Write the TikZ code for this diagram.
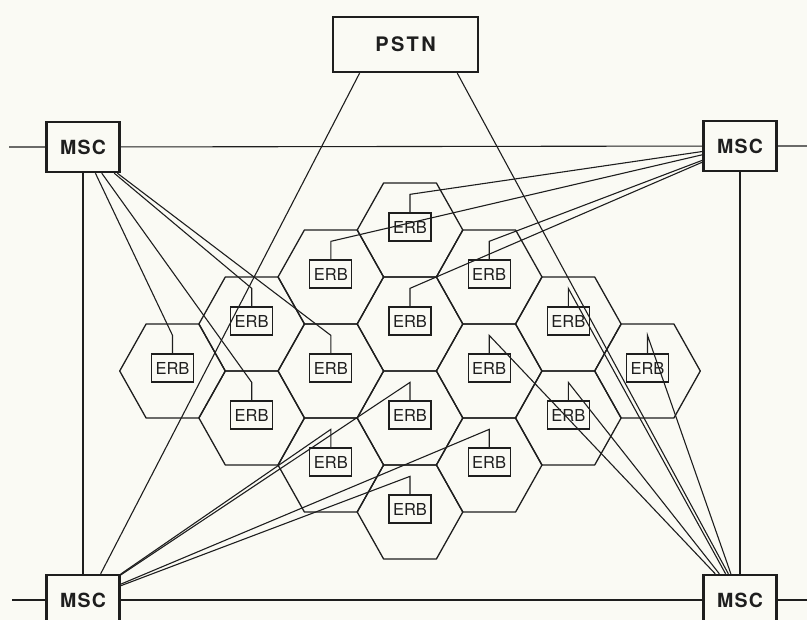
\documentclass[tikz,border=0pt]{standalone}
\usepackage{fontspec}
\usepackage{xcolor}
\setsansfont{TeX Gyre Heros}
\newfontfamily\boxfont[LetterSpace=6]{TeX Gyre Heros}
\newfontfamily\wideboxfont[LetterSpace=12]{TeX Gyre Heros}

\definecolor{paper}{RGB}{250,250,244}
\definecolor{ink}{RGB}{30,30,30}

\tikzset{
  cell/.style={draw=ink, line width=1.3pt, line join=round},
  erb/.style={draw=ink, line width=1.3pt, minimum width=42pt, minimum height=28pt,
    inner sep=0pt, text=ink, font=\sffamily\fontsize{16.5}{16.5}\selectfont},
  msc/.style={draw=ink, line width=2.4pt, minimum width=73pt, minimum height=50pt,
    inner sep=0pt, text=ink, font=\boxfont\bfseries\fontsize{19.5}{19.5}\selectfont},
  link/.style={draw=ink, line width=1.1pt},
}

\begin{document}
\begin{tikzpicture}[x=1pt,y=-1pt]
  \fill[paper] (0,0) rectangle (807,620);
  \useasboundingbox (0,0) rectangle (807,620);

  \foreach \n/\x/\y in {0/172.5/371, 1a/251.7/324, 1b/251.7/418,
      2a/330.8/277, 2b/330.8/371, 2c/330.8/465,
      3a/410/230, 3b/410/324, 3c/410/418, 3d/410/512,
      4a/489.2/277, 4b/489.2/371, 4c/489.2/465,
      5a/568.3/324, 5b/568.3/418, 6/647.5/371} {
    \draw[cell] (\x-52.8,\y) -- (\x-26.4,\y-47) -- (\x+26.4,\y-47) -- (\x+52.8,\y)
      -- (\x+26.4,\y+47) -- (\x-26.4,\y+47) -- cycle;
    \node[erb] (e\n) at (\x,\y-3) {ERB};
  }

  \node[msc] (tl) at (83,147) {MSC};
  \node[msc] (tr) at (740,146) {MSC};
  \node[msc] (bl) at (83,600) {MSC};
  \node[msc] (br) at (740,600) {MSC};
  \node[msc, minimum width=145pt, minimum height=55pt,
    font=\wideboxfont\bfseries\fontsize{20}{20}\selectfont] (pstn) at (405.5,44.5) {PSTN};

  \coordinate (tlend) at (9,147);
  \coordinate (trend) at (807,146);
  \coordinate (blend) at (12,600);
  \coordinate (brend) at (807,600);

  \draw[link] (tlend) -- (tl) -- (tr) -- (trend);
  \draw[link] (blend) -- (bl) -- (br) -- (brend);
  \draw[link] (tl) -- (bl);
  \draw[link] (tr) -- (br);
  \draw[link] (pstn.-148) -- (bl.56);
  \draw[link] (pstn.-29) -- (br.114);

  \foreach \n/\m in {0/tl, 1a/tl, 1b/tl, 2b/tl, 2a/tr, 3a/tr, 3b/tr, 4a/tr,
      4b/br, 5a/br, 5b/br, 6/br, 2c/bl, 3c/bl, 3d/bl, 4c/bl}
    \draw[link] (e\n.north) -- ++(0,-18) -- (\m);
\end{tikzpicture}
\end{document}
